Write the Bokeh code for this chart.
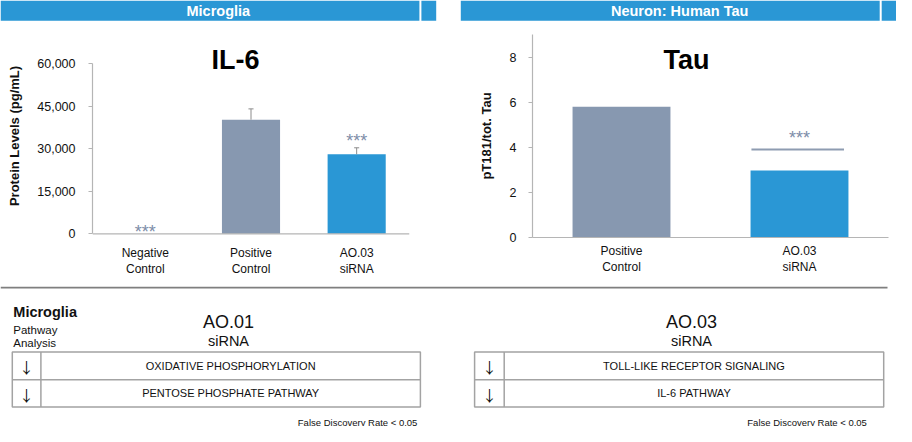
from bokeh.plotting import figure
from bokeh.models import Range1d, FactorRange, Label, NumeralTickFormatter, Span
from bokeh.transform import dodge
from bokeh.layouts import column, row
from bokeh.embed import file_html
from bokeh.resources import INLINE
from bokeh.core.properties import value

FONT = "Liberation Sans"

# ---------------- data ----------------
panel_titles = ["Microglia", "Neuron: Human Tau"]

il6_title = "IL-6"
il6_categories = ["Negative\nControl", "Positive\nControl", "AO.03\nsiRNA"]
il6_values = [0, 40200, 28000]
il6_errors = [0, 3800, 2300]
il6_sig_categories = ["Negative\nControl", "AO.03\nsiRNA"]
il6_sig_levels = [1900, 34000]
il6_ticks = [0, 15000, 30000, 45000, 60000]

tau_title = "Tau"
tau_categories = ["Positive\nControl", "AO.03\nsiRNA"]
tau_values = [5.8, 2.97]
tau_sig_categories = ["AO.03\nsiRNA"]
tau_bracket_levels = [3.9]
tau_sig_levels = [4.57]
tau_ticks = [0, 2, 4, 6, 8]

left_heading = ["Microglia", "Pathway", "Analysis"]
left_treatment = ["AO.01", "siRNA"]
left_pathways = ["OXIDATIVE PHOSPHORYLATION", "PENTOSE PHOSPHATE PATHWAY"]
left_directions = ["\u2193", "\u2193"]
right_treatment = ["AO.03", "siRNA"]
right_pathways = ["TOLL-LIKE RECEPTOR SIGNALING", "IL-6 PATHWAY"]
right_directions = ["\u2193", "\u2193"]
fdr_note = "False Discovery Rate < 0.05"

# ---------------- styles ----------------
BLUE = "#2a97d5"
GRAY_BAR = "#8798b0"
STAR = "#7d8da8"
AXIS = "#b5b5b5"
TXT = "#111111"
il6_colors = [GRAY_BAR, GRAY_BAR, BLUE]
tau_colors = [GRAY_BAR, BLUE]

W = 896

# ---------------- banner ----------------
banner = figure(width=W, height=22, x_range=Range1d(0, W), y_range=Range1d(22, 0),
                x_axis_location=None, y_axis_location=None, title=None,
                output_backend="svg", toolbar_location=None, min_border=0)
banner.outline_line_color = None
banner.grid.grid_line_color = None
banner.quad(left=[0, 420.9, 460.3, 881.2], right=[418.9, 435.7, 879.2, 896],
            top=[0, 0, 0, 0], bottom=[20.3, 20.3, 20.3, 20.3],
            fill_color=BLUE, line_color=None)
banner.text(x=[217.8, 679.2], y=[10.8, 10.8], text=panel_titles,
            text_font=value(FONT), text_font_size="14.5px", text_font_style="bold",
            text_color="white", text_align="center", text_baseline="middle")


def style_chart(p, ylabel, ticks, bounds, y_standoff, x_standoff, axis_label_standoff):
    p.outline_line_color = None
    p.grid.grid_line_color = None
    p.background_fill_color = "white"
    p.border_fill_color = "white"
    for ax in (p.xaxis[0], p.yaxis[0]):
        ax.axis_line_color = AXIS
        ax.axis_line_width = 1.2
        ax.major_label_text_font = FONT
        ax.major_label_text_color = TXT
        ax.minor_tick_line_color = None
    p.xaxis.major_label_text_font_size = "12px"
    p.yaxis.major_label_text_font_size = "12.5px"
    p.xaxis.major_tick_line_color = None
    p.xaxis.major_tick_out = 0
    p.xaxis.major_tick_in = 0
    p.xaxis.major_label_standoff = x_standoff
    p.yaxis.ticker = ticks
    p.yaxis.bounds = bounds
    p.yaxis.major_tick_line_color = AXIS
    p.yaxis.major_tick_out = 4
    p.yaxis.major_tick_in = 0
    p.yaxis.major_label_standoff = y_standoff
    p.yaxis.axis_label = ylabel
    p.yaxis.axis_label_text_font = FONT
    p.yaxis.axis_label_text_font_size = "13px"
    p.yaxis.axis_label_text_font_style = "bold"
    p.yaxis.axis_label_text_color = TXT
    p.yaxis.axis_label_standoff = axis_label_standoff


# both chart frames share the same vertical extent (row layouts align frames)
# ---------------- IL-6 chart ----------------
p1 = figure(width=443, height=260, x_range=FactorRange(*il6_categories),
            y_range=Range1d(-1300, 70200), title=None,
            output_backend="svg", toolbar_location=None,
            min_border_left=92, min_border_right=34, min_border_top=12, min_border_bottom=45)
style_chart(p1, "Protein Levels (pg/mL)", il6_ticks, (0, 60000), 13, 8, 12)
p1.xaxis.axis_line_color = None
p1.add_layout(Span(location=0, dimension="width", line_color=AXIS, line_width=1.2))
p1.yaxis.formatter = NumeralTickFormatter(format="0,0")
p1.vbar(x=il6_categories, top=il6_values, width=0.55, fill_color=il6_colors, line_color=None)
il6_tops = [v + e for v, e in zip(il6_values, il6_errors)]
err_src = dict(x=il6_categories[1:], y0=il6_values[1:], y1=il6_tops[1:])
p1.segment(x0="x", x1="x", y0="y0", y1="y1", source=err_src, line_color="#8c8c8c", line_width=1)
p1.segment(x0=dodge("x", -0.024, range=p1.x_range), x1=dodge("x", 0.024, range=p1.x_range),
           y0="y1", y1="y1", source=err_src, line_color="#8c8c8c", line_width=1)
p1.text(x=il6_sig_categories, y=il6_sig_levels, text=["***"] * len(il6_sig_categories),
        text_font=value(FONT), text_font_size="18px", text_color=STAR,
        text_align="center", text_baseline="middle", y_offset=4)
p1.add_layout(Label(x=143.1, y=177.6, x_units="screen", y_units="screen", text=il6_title,
                    text_font=FONT, text_font_size="27px", text_font_style="bold",
                    text_color="black", text_align="center", text_baseline="alphabetic"))

# ---------------- Tau chart ----------------
p2 = figure(width=453, height=260, x_range=FactorRange(*tau_categories),
            y_range=Range1d(0, 9), title=None,
            output_backend="svg", toolbar_location=None,
            min_border_left=89, min_border_right=8, min_border_top=12, min_border_bottom=45)
style_chart(p2, "pT181/tot. Tau", tau_ticks, (0, 9), 12, 6, 13)
p2.vbar(x=tau_categories, top=tau_values, width=0.55, fill_color=tau_colors, line_color=None)
br_src = dict(x=tau_sig_categories, y=tau_bracket_levels)
p2.segment(x0=dodge("x", -0.27, range=p2.x_range), x1=dodge("x", 0.25, range=p2.x_range),
           y0="y", y1="y", source=br_src, line_color="#8e9cb1", line_width=2)
p2.text(x=tau_sig_categories, y=tau_sig_levels, text=["***"] * len(tau_sig_categories),
        text_font=value(FONT), text_font_size="18px", text_color=STAR,
        text_align="center", text_baseline="middle", y_offset=4)
p2.add_layout(Label(x=154.1, y=177.6, x_units="screen", y_units="screen", text=tau_title,
                    text_font=FONT, text_font_size="27px", text_font_style="bold",
                    text_color="black", text_align="center", text_baseline="alphabetic"))

# ---------------- pathway tables ----------------
p3 = figure(width=W, height=144, x_range=Range1d(0, W), y_range=Range1d(144, 0),
            x_axis_location=None, y_axis_location=None, title=None,
            output_backend="svg", toolbar_location=None, min_border=0)
p3.outline_line_color = None
p3.grid.grid_line_color = None
p3.segment(x0=[0], x1=[887], y0=[5.1], y1=[5.1], line_color="#7f7f7f", line_width=1.6)

TBL = "#a3a3a3"
ROW_T, ROW_M, ROW_B = 69.4, 97.2, 124.6


def table(left, right, div, pathways, directions, treatment, center, note_right):
    p3.quad(left=[left], right=[right], top=[ROW_T], bottom=[ROW_B],
            fill_color=None, line_color=TBL, line_width=1.5)
    p3.segment(x0=[left, div], x1=[right, div], y0=[ROW_M, ROW_T], y1=[ROW_M, ROW_B],
               line_color=TBL, line_width=1.5)
    yc = [(ROW_T + ROW_M) / 2, (ROW_M + ROW_B) / 2]
    p3.text(x=[(div + right) / 2] * 2, y=yc, text=pathways, text_font=value(FONT),
            text_font_size="11px", text_color=TXT, text_align="center", text_baseline="middle")
    p3.text(x=[(left + div) / 2] * 2, y=[c + 1 for c in yc], text=directions,
            text_font=value("Noto Sans CJK JP"),
            text_font_size="15px", text_color=TXT, text_align="center", text_baseline="middle")
    p3.text(x=[center], y=[39.2], text=[treatment[0]], text_font=value(FONT),
            text_font_size="18px", text_color=TXT, text_align="center", text_baseline="alphabetic")
    p3.text(x=[center], y=[58.5], text=[treatment[1]], text_font=value(FONT),
            text_font_size="14.5px", text_color=TXT, text_align="center", text_baseline="alphabetic")
    p3.text(x=[note_right], y=[139.5], text=[fdr_note], text_font=value(FONT),
            text_font_size="9.5px", text_color=TXT, text_align="right", text_baseline="alphabetic")


table(11.8, 419.9, 40.4, left_pathways, left_directions, left_treatment, 228, 416.9)
table(474.1, 883.2, 503.7, right_pathways, right_directions, right_treatment, 691, 866.4)

p3.text(x=[12.8], y=[29.1], text=[left_heading[0]], text_font=value(FONT),
        text_font_size="14.5px", text_font_style="bold", text_color=TXT,
        text_align="left", text_baseline="alphabetic")
p3.text(x=[12.8, 12.8], y=[47.0, 60.9], text=left_heading[1:], text_font=value(FONT),
        text_font_size="11.5px", text_color=TXT, text_align="left", text_baseline="alphabetic")

layout = column(banner, row(p1, p2, spacing=0), p3, spacing=0)
open("out.html", "w").write(file_html(layout, INLINE))
